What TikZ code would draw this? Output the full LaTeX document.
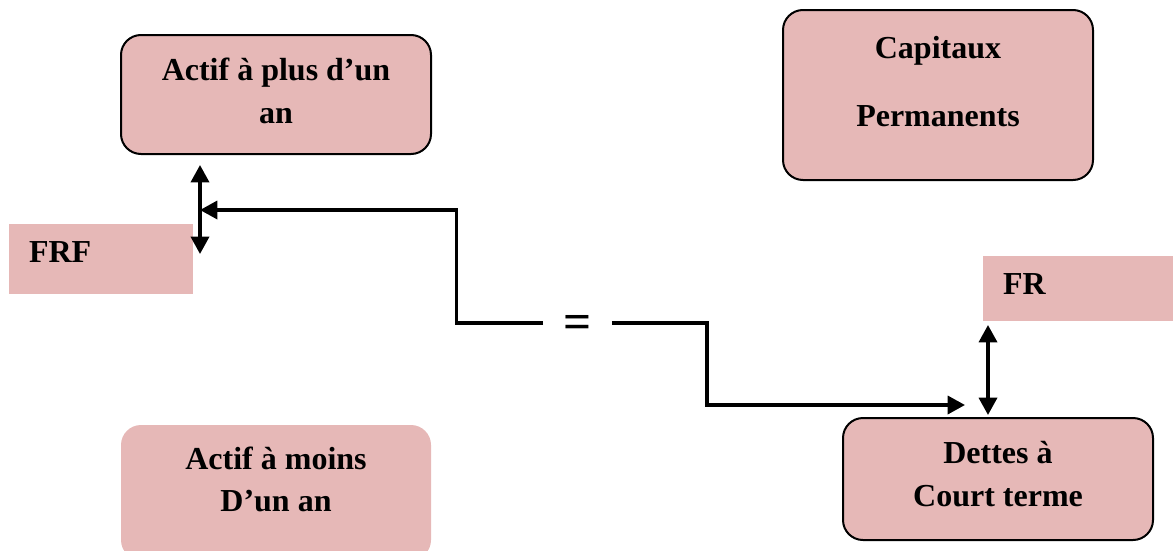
\documentclass[tikz,border=0pt]{standalone}
\usepackage{fontspec}
\setmainfont{Liberation Serif}
\usetikzlibrary{arrows.meta}
\definecolor{boxpink}{HTML}{E6B8B7}

\begin{document}
\begin{tikzpicture}[x=0.75pt,y=-0.75pt,
  box/.style={rounded corners=15pt,fill=boxpink,draw=black,line width=1.5pt,align=center,inner sep=0pt,minimum width=232.5pt,font=\bfseries\fontsize{24}{32}\selectfont},
  flatbox/.style={fill=boxpink,inner sep=0pt,inner xsep=15pt,align=left,font=\bfseries\fontsize{24}{32}\selectfont},
  eqsign/.style={inner sep=0pt,minimum width=51pt,text height=23.6pt,text depth=0pt,font=\bfseries\fontsize{37}{37}\selectfont},
  link/.style={line width=2.6pt},
  head/.tip={Triangle[length=13pt,width=13.5pt]}]
  \useasboundingbox (0,0) rectangle (1173,550);
  \clip (0,0) rectangle (1173,550);

  \node[box,minimum height=89.25pt] (plus) at (276,94.5) {Actif à plus d'un\\an\rule[-6pt]{0pt}{0pt}};
  \node[box,minimum height=127.5pt] (capit) at (938,95) {Capitaux\\[19pt]Permanents\rule[-21pt]{0pt}{0pt}};
  \node[flatbox,minimum width=138pt,minimum height=52.5pt,text width=108pt] (frf) at (101,259) {FRF\rule[-10.5pt]{0pt}{0pt}};
  \node[flatbox,minimum width=142.5pt,minimum height=48.75pt,text width=112.5pt] (fr) at (1078,288.5) {FR\rule[-6pt]{0pt}{0pt}};
  \node[box,draw=none,minimum height=101.25pt] (moins) at (276,492.5) {Actif à moins\\D'un an\rule[-20pt]{0pt}{0pt}};
  \node[box,minimum height=91.5pt] (dettes) at (998,479) {Dettes à\\Court terme\rule[-7.5pt]{0pt}{0pt}};
  \node[eqsign] (eq) at (577.5,323) {=};

  % bouts des fleches
  \coordinate (frfTop) at (200,165);
  \coordinate (frfBot) at (200,254);
  \coordinate (frfIn) at (200,210);
  \coordinate (frTop) at (988,325);
  \coordinate (frBot) at (988,415);
  \coordinate (dettesIn) at (965,405);

  \draw[link,head-head] (frfTop) -- (frfBot);
  \draw[link,head-head] (frTop) -- (frBot);
  \draw[link,-head] (eq.west) -- ++(-87,0) |- (frfIn);
  \draw[link,-head] (eq.east) -- ++(95,0) |- (dettesIn);
\end{tikzpicture}
\end{document}
